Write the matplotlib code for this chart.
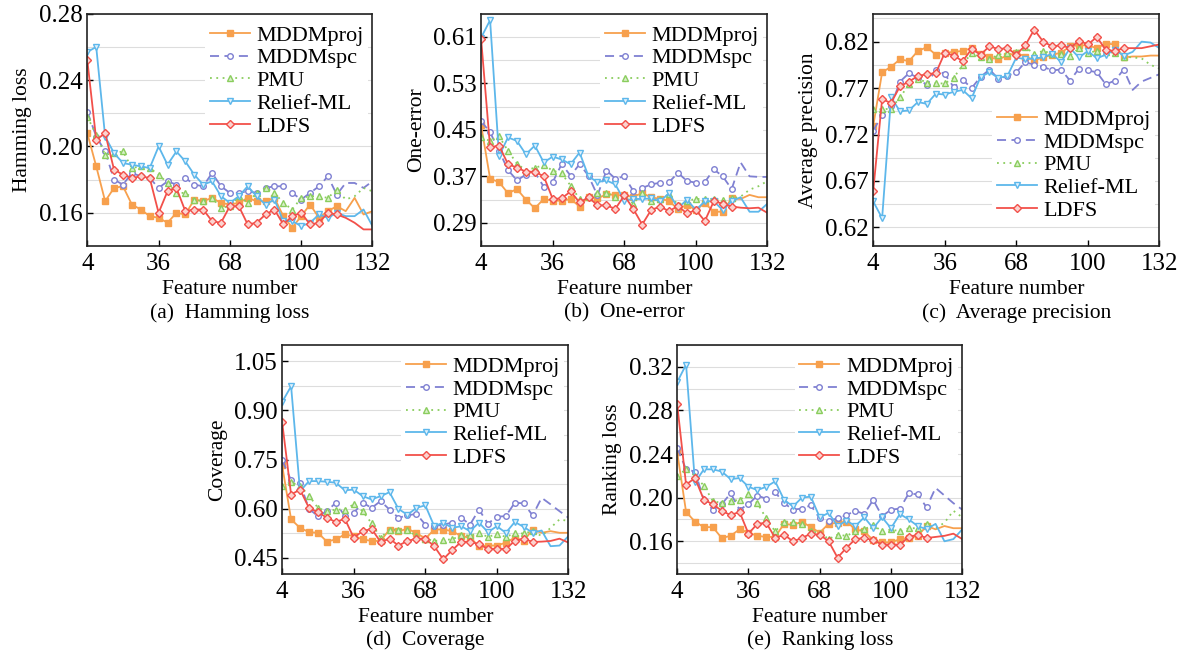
import matplotlib.pyplot as plt
from matplotlib.ticker import FixedLocator

plt.rcParams['font.family'] = ['Liberation Serif', 'DejaVu Serif']

# number of selected features (x axis)
features = list(range(4, 133, 4))
methods = ['MDDMproj', 'MDDMspc', 'PMU', 'Relief-ML', 'LDFS']

# (a) Hamming loss
ham_proj = [0.208, 0.188, 0.167, 0.175, 0.176, 0.165, 0.162, 0.158, 0.157, 0.154, 0.160, 0.159, 0.168, 0.167, 0.169, 0.166, 0.165,
            0.166, 0.169, 0.167, 0.167, 0.169, 0.158, 0.151, 0.158, 0.165, 0.157, 0.161, 0.164, 0.161, 0.169, 0.159, 0.161]
ham_spc = [0.221, 0.206, 0.197, 0.180, 0.177, 0.184, 0.182, 0.181, 0.175, 0.179, 0.177, 0.181, 0.177, 0.176, 0.184, 0.176, 0.172,
           0.172, 0.173, 0.172, 0.175, 0.176, 0.176, 0.172, 0.168, 0.172, 0.176, 0.182, 0.171, 0.178, 0.178, 0.175, 0.179]
ham_pmu = [0.218, 0.207, 0.195, 0.196, 0.197, 0.187, 0.188, 0.187, 0.183, 0.178, 0.172, 0.172, 0.168, 0.167, 0.169, 0.163, 0.164,
           0.170, 0.166, 0.172, 0.175, 0.172, 0.166, 0.162, 0.169, 0.170, 0.170, 0.169, 0.174, 0.168, 0.170, 0.175, 0.173]
ham_relief = [0.257, 0.260, 0.206, 0.196, 0.190, 0.189, 0.188, 0.187, 0.200, 0.189, 0.197, 0.191, 0.183, 0.177, 0.179, 0.170, 0.166,
              0.170, 0.176, 0.170, 0.165, 0.168, 0.155, 0.155, 0.152, 0.154, 0.159, 0.157, 0.160, 0.158, 0.158, 0.162, 0.152]
ham_ldfs = [0.252, 0.204, 0.208, 0.186, 0.183, 0.181, 0.182, 0.181, 0.160, 0.173, 0.175, 0.161, 0.162, 0.162, 0.155, 0.154, 0.164,
            0.164, 0.153, 0.154, 0.159, 0.162, 0.153, 0.158, 0.160, 0.153, 0.154, 0.160, 0.159, 0.157, 0.154, 0.150, 0.150]

# (b) One-error
one_proj = [0.458, 0.366, 0.360, 0.341, 0.348, 0.330, 0.315, 0.331, 0.328, 0.328, 0.331, 0.318, 0.335, 0.332, 0.339, 0.338, 0.337,
            0.335, 0.341, 0.334, 0.331, 0.328, 0.313, 0.321, 0.312, 0.324, 0.309, 0.309, 0.332, 0.331, 0.338, 0.334, 0.334]
one_spc = [0.465, 0.446, 0.414, 0.381, 0.363, 0.373, 0.377, 0.352, 0.360, 0.391, 0.371, 0.391, 0.371, 0.337, 0.380, 0.366, 0.370,
           0.345, 0.350, 0.356, 0.359, 0.360, 0.376, 0.362, 0.359, 0.360, 0.382, 0.370, 0.348, 0.394, 0.370, 0.369, 0.369]
one_pmu = [0.437, 0.431, 0.439, 0.414, 0.392, 0.380, 0.385, 0.389, 0.380, 0.375, 0.354, 0.331, 0.334, 0.341, 0.342, 0.335, 0.337,
           0.323, 0.341, 0.327, 0.331, 0.339, 0.321, 0.328, 0.331, 0.331, 0.331, 0.330, 0.332, 0.335, 0.347, 0.353, 0.362]
one_relief = [0.609, 0.639, 0.405, 0.437, 0.431, 0.408, 0.423, 0.394, 0.404, 0.399, 0.391, 0.411, 0.370, 0.360, 0.363, 0.356, 0.328,
              0.331, 0.331, 0.332, 0.327, 0.341, 0.315, 0.330, 0.312, 0.327, 0.327, 0.312, 0.327, 0.334, 0.309, 0.309, 0.323]
one_ldfs = [0.606, 0.420, 0.423, 0.391, 0.385, 0.378, 0.378, 0.370, 0.331, 0.332, 0.344, 0.325, 0.334, 0.320, 0.320, 0.314, 0.337,
            0.314, 0.287, 0.312, 0.318, 0.310, 0.319, 0.306, 0.312, 0.293, 0.327, 0.323, 0.318, 0.316, 0.315, 0.316, 0.307]

# (c) Average precision
ap_proj = [0.729, 0.787, 0.793, 0.801, 0.799, 0.810, 0.814, 0.806, 0.808, 0.809, 0.810, 0.813, 0.807, 0.803, 0.801, 0.805, 0.808,
           0.804, 0.800, 0.803, 0.806, 0.808, 0.815, 0.816, 0.816, 0.813, 0.818, 0.817, 0.803, 0.804, 0.804, 0.805, 0.805]
ap_spc = [0.724, 0.741, 0.751, 0.777, 0.786, 0.781, 0.773, 0.790, 0.785, 0.771, 0.779, 0.770, 0.782, 0.790, 0.780, 0.783, 0.787,
          0.798, 0.795, 0.793, 0.789, 0.790, 0.778, 0.791, 0.789, 0.787, 0.774, 0.778, 0.790, 0.768, 0.777, 0.781, 0.785]
ap_pmu = [0.748, 0.747, 0.748, 0.760, 0.774, 0.780, 0.776, 0.775, 0.775, 0.781, 0.795, 0.808, 0.803, 0.801, 0.806, 0.808, 0.809,
          0.814, 0.807, 0.810, 0.807, 0.807, 0.805, 0.813, 0.808, 0.810, 0.809, 0.808, 0.804, 0.803, 0.802, 0.795, 0.791]
ap_relief = [0.648, 0.630, 0.760, 0.745, 0.746, 0.755, 0.753, 0.764, 0.763, 0.766, 0.768, 0.759, 0.782, 0.787, 0.781, 0.783, 0.803,
             0.801, 0.802, 0.803, 0.807, 0.798, 0.813, 0.803, 0.810, 0.802, 0.806, 0.811, 0.805, 0.809, 0.820, 0.819, 0.813]
ap_ldfs = [0.659, 0.758, 0.754, 0.772, 0.777, 0.783, 0.785, 0.786, 0.808, 0.805, 0.799, 0.812, 0.806, 0.815, 0.812, 0.813, 0.806,
           0.816, 0.833, 0.820, 0.815, 0.816, 0.813, 0.821, 0.817, 0.825, 0.811, 0.810, 0.813, 0.813, 0.813, 0.815, 0.817]

# (d) Coverage
cov_proj = [0.732, 0.567, 0.541, 0.528, 0.526, 0.499, 0.506, 0.521, 0.516, 0.506, 0.501, 0.501, 0.536, 0.531, 0.538, 0.526, 0.508,
            0.536, 0.536, 0.531, 0.516, 0.511, 0.485, 0.487, 0.487, 0.496, 0.511, 0.501, 0.536, 0.526, 0.531, 0.526, 0.526]
cov_spc = [0.748, 0.687, 0.677, 0.599, 0.577, 0.592, 0.618, 0.577, 0.587, 0.618, 0.602, 0.623, 0.597, 0.572, 0.579, 0.584, 0.551,
           0.546, 0.551, 0.557, 0.572, 0.551, 0.597, 0.554, 0.575, 0.577, 0.618, 0.616, 0.579, 0.633, 0.613, 0.592, 0.572]
cov_pmu = [0.669, 0.681, 0.669, 0.640, 0.602, 0.592, 0.597, 0.597, 0.613, 0.592, 0.555, 0.511, 0.536, 0.536, 0.534, 0.516, 0.508,
           0.501, 0.504, 0.506, 0.518, 0.518, 0.524, 0.514, 0.521, 0.514, 0.524, 0.524, 0.531, 0.516, 0.541, 0.567, 0.562]
cov_relief = [0.926, 0.974, 0.653, 0.684, 0.684, 0.682, 0.679, 0.656, 0.658, 0.638, 0.628, 0.638, 0.650, 0.599, 0.581, 0.602, 0.610,
              0.546, 0.557, 0.541, 0.546, 0.531, 0.557, 0.528, 0.546, 0.526, 0.559, 0.544, 0.526, 0.533, 0.485, 0.487, 0.516]
cov_ldfs = [0.864, 0.643, 0.658, 0.602, 0.589, 0.572, 0.559, 0.569, 0.511, 0.531, 0.538, 0.498, 0.508, 0.487, 0.501, 0.508, 0.508,
            0.485, 0.445, 0.473, 0.498, 0.499, 0.491, 0.477, 0.477, 0.477, 0.501, 0.508, 0.498, 0.499, 0.501, 0.508, 0.496]

# (e) Ranking loss
rl_proj = [0.242, 0.187, 0.178, 0.173, 0.173, 0.163, 0.165, 0.171, 0.168, 0.165, 0.164, 0.164, 0.176, 0.175, 0.178, 0.173, 0.168,
           0.176, 0.177, 0.178, 0.171, 0.169, 0.161, 0.159, 0.159, 0.162, 0.163, 0.165, 0.174, 0.171, 0.174, 0.172, 0.172]
rl_spc = [0.246, 0.226, 0.224, 0.198, 0.189, 0.194, 0.204, 0.189, 0.194, 0.202, 0.199, 0.205, 0.195, 0.189, 0.190, 0.193, 0.181,
          0.179, 0.181, 0.184, 0.188, 0.185, 0.198, 0.183, 0.189, 0.190, 0.204, 0.203, 0.191, 0.209, 0.202, 0.195, 0.189]
rl_pmu = [0.220, 0.226, 0.220, 0.211, 0.197, 0.195, 0.197, 0.198, 0.203, 0.195, 0.181, 0.169, 0.178, 0.178, 0.176, 0.169, 0.168,
          0.162, 0.166, 0.165, 0.169, 0.171, 0.175, 0.169, 0.171, 0.169, 0.172, 0.172, 0.176, 0.172, 0.177, 0.188, 0.182]
rl_relief = [0.306, 0.322, 0.214, 0.226, 0.226, 0.224, 0.217, 0.218, 0.210, 0.207, 0.210, 0.215, 0.198, 0.192, 0.200, 0.201, 0.182,
             0.186, 0.174, 0.179, 0.174, 0.182, 0.172, 0.182, 0.172, 0.185, 0.180, 0.174, 0.171, 0.176, 0.160, 0.162, 0.171]
rl_ldfs = [0.286, 0.212, 0.218, 0.198, 0.194, 0.188, 0.184, 0.187, 0.167, 0.176, 0.177, 0.163, 0.166, 0.160, 0.163, 0.167, 0.166,
           0.160, 0.145, 0.154, 0.162, 0.163, 0.161, 0.157, 0.157, 0.157, 0.164, 0.166, 0.163, 0.164, 0.165, 0.167, 0.162]

# y tick labels of each panel
ham_ticks = [0.16, 0.20, 0.24, 0.28]
one_ticks = [0.29, 0.37, 0.45, 0.53, 0.61]
ap_ticks = [0.62, 0.67, 0.72, 0.77, 0.82]
cov_ticks = [0.45, 0.60, 0.75, 0.90, 1.05]
rl_ticks = [0.16, 0.20, 0.24, 0.28, 0.32]

styles = {
    'MDDMproj': dict(color='#F7A04D', ls='-', marker='s', mfc='#F7A04D'),
    'MDDMspc': dict(color='#7F80D2', ls=(0, (5, 3)), marker='o', mfc='white'),
    'PMU': dict(color='#8ACD5E', ls=(0, (1, 2.5)), marker='^', mfc='#D9F0C9'),
    'Relief-ML': dict(color='#5DB7EB', ls='-', marker='v', mfc='#E2F2FC'),
    'LDFS': dict(color='#F2504A', ls='-', marker='D', mfc='#FBD3CF'),
}

panels = [
    # rect, series, ylim, yticks, ylabel, caption, legend anchor
    ([0.0735, 0.625, 0.240, 0.354], [ham_proj, ham_spc, ham_pmu, ham_relief, ham_ldfs],
     (0.14, 0.28), ham_ticks, 'Hamming loss', '(a)  Hamming loss', ('upper right', (1.0, 0.99))),
    ([0.405, 0.625, 0.241, 0.354], [one_proj, one_spc, one_pmu, one_relief, one_ldfs],
     (0.25, 0.65), one_ticks, 'One-error', '(b)  One-error', ('upper right', (1.0, 0.99))),
    ([0.735, 0.625, 0.241, 0.354], [ap_proj, ap_spc, ap_pmu, ap_relief, ap_ldfs],
     (0.60, 0.85), ap_ticks, 'Average precision', '(c)  Average precision', ('lower right', (1.0, 0.07))),
    ([0.2375, 0.125, 0.241, 0.349], [cov_proj, cov_spc, cov_pmu, cov_relief, cov_ldfs],
     (0.40, 1.10), cov_ticks, 'Coverage', '(d)  Coverage', ('upper right', (1.0, 0.99))),
    ([0.570, 0.125, 0.240, 0.349], [rl_proj, rl_spc, rl_pmu, rl_relief, rl_ldfs],
     (0.13, 0.34), rl_ticks, 'Ranking loss', '(e)  Ranking loss', ('upper right', (1.0, 0.99))),
]

fig = plt.figure(figsize=(11.88, 6.56), dpi=100)

for rect, series, ylim, yticks, ylabel, caption, (loc, anchor) in panels:
    ax = fig.add_axes(rect)
    for name, vals in zip(methods, series):
        st = styles[name]
        ax.plot(features, vals, color=st['color'], linestyle=st['ls'], linewidth=1.3,
                marker=st['marker'], markersize=4, markerfacecolor=st['mfc'],
                markeredgecolor=st['color'], markeredgewidth=1.0,
                markevery=slice(0, 29), label=name)

    ax.set_xlim(4, 132)
    ax.set_xticks([4, 36, 68, 100, 132])
    ax.set_ylim(*ylim)
    ax.set_yticks(yticks)
    ax.set_yticklabels([f'{t:.2f}' for t in yticks])
    # light grid lines every half step
    half = (yticks[1] - yticks[0]) / 2
    minors = [yticks[0] - half] + [t + half for t in yticks]
    ax.yaxis.set_minor_locator(FixedLocator([m for m in minors if ylim[0] < m <= ylim[1] + 1e-9]))
    ax.grid(axis='y', which='both', color='#DDDDDD', linewidth=0.8)
    ax.set_axisbelow(True)
    ax.tick_params(axis='both', which='major', direction='in', length=4, width=1,
                   labelsize=18, top=False, right=False, pad=3)
    ax.tick_params(axis='x', which='major', pad=5)
    ax.tick_params(axis='y', which='minor', length=0)
    for sp in ax.spines.values():
        sp.set_linewidth(1.2)
        sp.set_color('#222222')

    ax.set_xlabel('Feature number', fontsize=15.5, labelpad=4)
    ax.set_ylabel(ylabel, fontsize=15.5, labelpad=5)
    ax.text(0.5, -0.29, caption, transform=ax.transAxes, ha='center', va='center', fontsize=15.5)

    leg = ax.legend(loc=loc, bbox_to_anchor=anchor, fontsize=16, frameon=True, handlelength=1.8,
                    handletextpad=0.3, labelspacing=0.1, borderaxespad=0.2, borderpad=0.2)
    leg.get_frame().set_edgecolor('none')
    leg.get_frame().set_facecolor('white')
    leg.get_frame().set_alpha(1)

fig.savefig('out.png', dpi=100)
